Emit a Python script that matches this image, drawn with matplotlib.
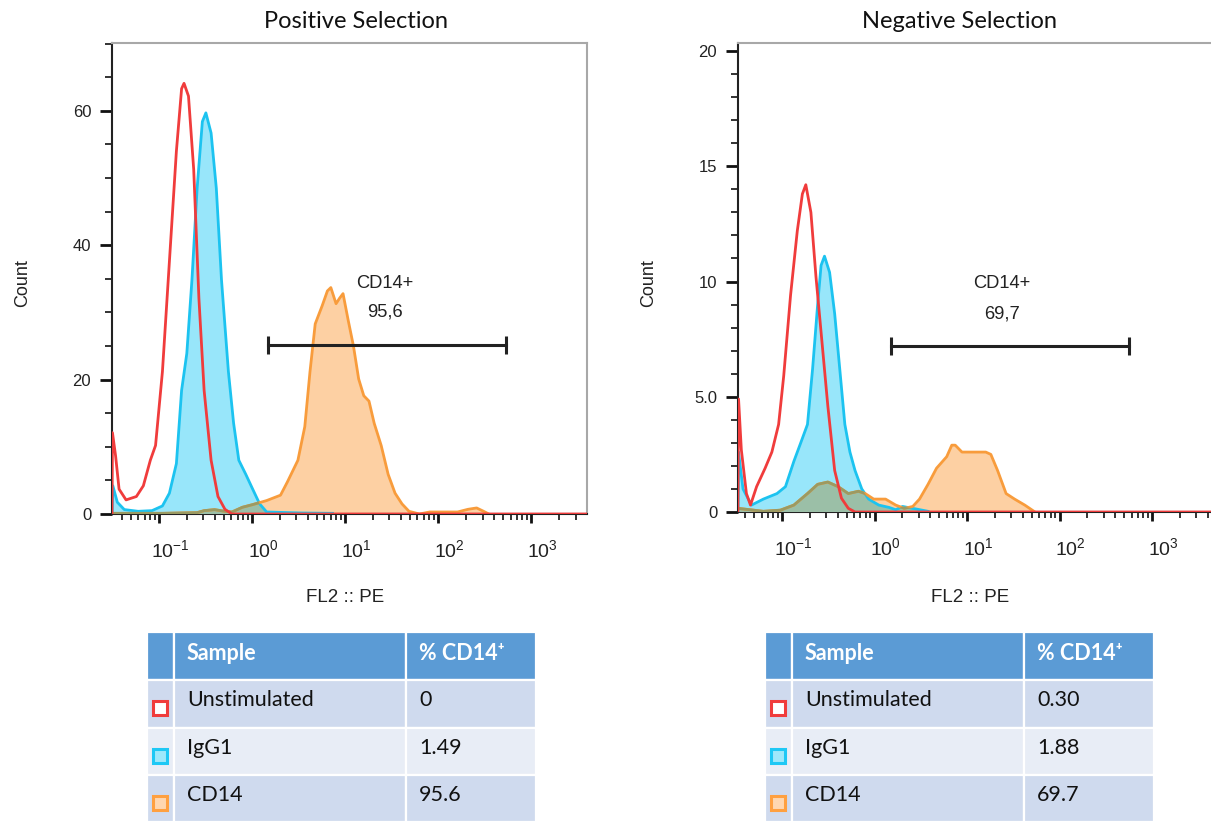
import numpy as np
import matplotlib
matplotlib.use("Agg")
import matplotlib.pyplot as plt
import matplotlib.transforms as mtransforms
from matplotlib.patches import Rectangle

plt.rcParams["font.family"] = ["Liberation Sans", "DejaVu Sans"]
plt.rcParams["mathtext.fontset"] = "custom"
plt.rcParams["mathtext.rm"] = "Liberation Sans"

W, H = 1211, 821

# ---- data (x in log10 of FL2 :: PE, y = count) ----
pos_unstim_x = [-1.505, -1.500, -1.466, -1.429, -1.354, -1.243, -1.168, -1.093, -1.037, -0.963, -0.888,
                -0.813, -0.757, -0.731, -0.683, -0.627, -0.571, -0.515, -0.440, -0.366, -0.291, -0.216, 3.7]
pos_unstim_y = [0, 12.1, 8.6, 3.7, 2.1, 2.6, 4.2, 8.0, 10.2, 21.2, 37.6,
                54.0, 63.3, 64.1, 62.2, 51.3, 32.1, 18.4, 8.0, 2.6, 0.7, 0, 0]

pos_igg_x = [-1.505, -1.496, -1.448, -1.373, -1.224, -1.075, -0.963, -0.888, -0.813, -0.757, -0.701, -0.646,
             -0.590, -0.534, -0.496, -0.440, -0.384, -0.328, -0.254, -0.198, -0.142, -0.067, 0.007,
             0.082, 0.157, 0.530, 0.866]
pos_igg_y = [0, 4.2, 1.75, 0.66, 0.4, 0.5, 1.2, 3.1, 7.5, 18.4, 23.9, 34.8,
             48.5, 58.4, 59.7, 56.7, 48.5, 34.8, 21.2, 13.5, 8.0, 5.9, 3.7,
             1.5, 0.3, 0.15, 0.1]

pos_cd14_x = [-1.505, -0.963, -0.590, -0.515, -0.403, -0.291, -0.216, -0.104, 0.007, 0.157, 0.306, 0.381,
              0.493, 0.567, 0.623, 0.679, 0.754, 0.810, 0.847, 0.903, 0.940, 0.978, 1.034, 1.090,
              1.146, 1.201, 1.257, 1.313, 1.388, 1.463, 1.537, 1.612, 1.687, 1.799, 1.910, 2.209,
              2.321, 2.414, 2.489, 2.545]
pos_cd14_y = [0.1, 0.1, 0.2, 0.5, 0.65, 0.4, 0.3, 1.0, 1.4, 2.0, 2.8, 4.8,
              8.0, 13.0, 21.2, 28.3, 31.0, 33.2, 33.7, 31.3, 32.1, 32.8, 28.8, 25.0,
              20.1, 17.6, 16.8, 13.5, 10.2, 5.9, 3.1, 1.5, 0.4, 0, 0.3, 0.3,
              0.7, 0.9, 0.4, 0]

neg_unstim_x = [-1.477, -1.470, -1.440, -1.385, -1.341, -1.275, -1.183, -1.110, -1.037, -0.982, -0.908,
                -0.835, -0.780, -0.743, -0.688, -0.633, -0.578, -0.505, -0.431, -0.358, -0.284, -0.211, 3.7]
neg_unstim_y = [0, 4.9, 2.7, 0.8, 0.3, 1.1, 1.9, 2.6, 3.8, 5.9, 9.4,
                12.2, 13.8, 14.2, 13.0, 10.2, 7.8, 4.6, 1.8, 0.6, 0.16, 0, 0]

neg_igg_x = [-1.477, -1.470, -1.422, -1.330, -1.202, -1.055, -0.963, -0.872, -0.798, -0.725, -0.670, -0.615,
             -0.578, -0.541, -0.486, -0.431, -0.376, -0.321, -0.266, -0.211, -0.138, -0.064, 0.046,
             0.156, 0.229, 0.303, 0.450, 0.578]
neg_igg_y = [0, 2.6, 1.0, 0.3, 0.56, 0.8, 1.1, 2.2, 3.0, 3.8, 6.2, 9.0,
             10.7, 11.1, 10.4, 8.6, 6.2, 3.8, 2.6, 1.8, 1.0, 0.56, 0.3,
             0.2, 0.1, 0.24, 0.13, 0.03]

neg_cd14_x = [-1.477, -1.202, -1.018, -0.872, -0.725, -0.615, -0.505, -0.394, -0.284, -0.174, -0.101, -0.009,
              0.119, 0.229, 0.321, 0.413, 0.486, 0.578, 0.670, 0.780, 0.835, 0.872, 0.945, 1.037,
              1.147, 1.202, 1.257, 1.330, 1.422, 1.514, 1.624, 1.734]
neg_cd14_y = [0.16, 0.03, 0.08, 0.3, 0.8, 1.2, 1.3, 1.1, 0.8, 0.9, 0.8, 0.56,
              0.56, 0.3, 0.16, 0.24, 0.56, 1.2, 1.9, 2.4, 2.9, 2.9, 2.6, 2.6,
              2.6, 2.6, 2.5, 1.8, 0.8, 0.56, 0.3, 0]

titles = ["Positive Selection", "Negative Selection"]
gate_pct = ["95,6", "69,7"]
gate_lo = [0.17, 0.18]
gate_hi = [2.73, 2.75]
gate_y = [25.1, 7.2]
gate_text_y = [(34.3, 30.1), (9.9, 8.6)]
gate_text_x = [1.43, 1.38]

samples = ["Unstimulated", "IgG1", "CD14"]
pos_pct = ["0", "1.49", "95.6"]
neg_pct = ["0.30", "1.88", "69.7"]

RED = "#f03c3c"
CYAN_LINE = "#1cc3f0"
CYAN_FILL = "#98e6fa"
ORANGE_LINE = "#f89c3c"
ORANGE_FILL = "#fdd0a3"
OVERLAP_FILL = "#9bbfa7"
OVERLAP_LINE = "#9b9a62"


def px_rect(x0, y0, x1, y1):
    return [x0 / W, 1 - y1 / H, (x1 - x0) / W, (y1 - y0) / H]


fig = plt.figure(figsize=(W / 100, H / 100), dpi=100)

panels = [
    dict(rect=(112, 43, 587, 514), xlim=(-1.505, 3.60), ylim=(0, 70.1),
         yticks=[0, 20, 40, 60], ylabels=["0", "20", "40", "60"], yminor=5,
         curves=(pos_unstim_x, pos_unstim_y, pos_igg_x, pos_igg_y, pos_cd14_x, pos_cd14_y),
         title_x=356, label_x=23, xlabel_x=345),
    dict(rect=(738, 43, 1215, 512), xlim=(-1.476, 3.68), ylim=(0, 20.35),
         yticks=[0, 5, 10, 15, 20], ylabels=["0", "5.0", "10", "15", "20"], yminor=1,
         curves=(neg_unstim_x, neg_unstim_y, neg_igg_x, neg_igg_y, neg_cd14_x, neg_cd14_y),
         title_x=960, label_x=649, xlabel_x=970),
]

for i, p in enumerate(panels):
    ax = fig.add_axes(px_rect(*p["rect"]))
    ux, uy, gx, gy, cx, cy = p["curves"]

    cyan = ax.fill_between(gx, gy, color=CYAN_FILL, lw=0, zorder=1)
    ax.fill_between(cx, cy, color=ORANGE_FILL, lw=0, zorder=2)
    clip_path = cyan.get_paths()[0]
    over = ax.fill_between(cx, cy, color=OVERLAP_FILL, lw=0, zorder=3)
    over.set_clip_path(clip_path, ax.transData)
    ax.plot(gx, gy, color=CYAN_LINE, lw=2.0, zorder=4)
    ax.plot(cx, cy, color=ORANGE_LINE, lw=2.0, zorder=5)
    ol, = ax.plot(cx, cy, color=OVERLAP_LINE, lw=2.0, zorder=6)
    ol.set_clip_path(clip_path, ax.transData)
    ax.plot(ux, uy, color=RED, lw=2.0, zorder=7)

    # gate
    ax.plot([gate_lo[i], gate_hi[i]], [gate_y[i], gate_y[i]], color="#222222", lw=2.2,
            marker="|", ms=13, mew=2.2, zorder=8)
    ax.text(gate_text_x[i], gate_text_y[i][0], "CD14+", ha="center", va="center",
            fontsize=13.2, color="#222222")
    ax.text(gate_text_x[i], gate_text_y[i][1], gate_pct[i], ha="center", va="center",
            fontsize=13.2, color="#222222")

    ax.set_xlim(*p["xlim"])
    ax.set_ylim(*p["ylim"])

    # x ticks: decades and 2..9 minor positions
    decades = [-1, 0, 1, 2, 3]
    ax.set_xticks(decades)
    ax.set_xticklabels([r"$\mathregular{10^{%d}}$" % d for d in decades])
    minors = [d + np.log10(m) for d in range(-2, 4) for m in range(2, 10)]
    minors = [m for m in minors if p["xlim"][0] < m < p["xlim"][1]]
    ax.set_xticks(minors, minor=True)
    ax.tick_params(axis="x", which="major", length=6.5, width=2.0, pad=12, labelsize=14,
                   color="#111111", labelcolor="#222222")
    ax.tick_params(axis="x", which="minor", length=4.5, width=1.2, color="#111111")
    offset = mtransforms.ScaledTranslation(0.11, 0, fig.dpi_scale_trans)
    for lab in ax.get_xticklabels():
        lab.set_transform(lab.get_transform() + offset)

    ax.set_yticks(p["yticks"])
    ax.set_yticklabels(p["ylabels"])
    ax.set_yticks(np.arange(0, p["ylim"][1], p["yminor"]), minor=True)
    ax.tick_params(axis="y", which="major", length=9, width=2.0, pad=6, labelsize=12,
                   color="#111111", labelcolor="#222222")
    ax.tick_params(axis="y", which="minor", length=5, width=1.2, color="#111111")

    for side in ("top", "right"):
        ax.spines[side].set_color("#a8a8a8")
        ax.spines[side].set_linewidth(1.5)
    for side in ("left", "bottom"):
        ax.spines[side].set_color("#222222")
        ax.spines[side].set_linewidth(1.5)

    fig.text(p["title_x"] / W, 1 - 22 / H, titles[i], ha="center", va="center",
             fontsize=17, family=["Lato", "DejaVu Sans"], color="#111111")
    fig.text(p["label_x"] / W, 1 - 283 / H, "Count", rotation=90, ha="center", va="center",
             fontsize=13, color="#222222")
    fig.text(p["xlabel_x"] / W, 1 - 597 / H, "FL2 :: PE", ha="center", va="center",
             fontsize=13.5, color="#222222")


# ---- tables ----
HEADER = "#5b9bd5"
ROW_COLORS = ["#cfdaee", "#e8edf6", "#cfdaee"]
ICON_EDGE = [RED, "#1ec8f5", "#ffa040"]
ICON_FACE = ["#ffffff", "#9ee8fb", "#ffd7b0"]
TFONT = ["Lato", "DejaVu Sans"]


def draw_table(x0, values):
    tw, th = 389, 190
    tax = fig.add_axes(px_rect(x0, 632, x0 + tw, 632 + th))
    tax.set_xlim(0, tw)
    tax.set_ylim(th, 0)
    tax.axis("off")
    cols = [(0, 27), (27, 259), (259, 389)]
    rows = [(0, 48), (48, 96), (96, 143), (143, 190)]
    for r, (ry0, ry1) in enumerate(rows):
        color = HEADER if r == 0 else ROW_COLORS[r - 1]
        for cx0, cx1 in cols:
            tax.add_patch(Rectangle((cx0, ry0), cx1 - cx0, ry1 - ry0, facecolor=color,
                                    edgecolor="white", lw=1.6))
    tax.text(40, 21, "Sample", ha="left", va="center", fontsize=15.5, fontweight="bold",
             color="white", family=TFONT)
    tax.text(272, 21, "% CD14\u207a", ha="left", va="center", fontsize=15.5, fontweight="bold",
             color="white", family=TFONT)
    for r in range(3):
        ry0, ry1 = rows[r + 1]
        yc = (ry0 + ry1) / 2
        tax.text(40, yc - 4, samples[r], ha="left", va="center", fontsize=15.5,
                 color="#111111", family=TFONT)
        tax.text(272, yc - 4, values[r], ha="left", va="center", fontsize=15.5,
                 color="#111111", family=TFONT)
        tax.add_patch(Rectangle((6, yc - 3), 14, 14, facecolor=ICON_FACE[r],
                                edgecolor=ICON_EDGE[r], lw=2.2))


draw_table(147, pos_pct)
draw_table(765, neg_pct)

fig.savefig("out.png", dpi=100, facecolor="white")
